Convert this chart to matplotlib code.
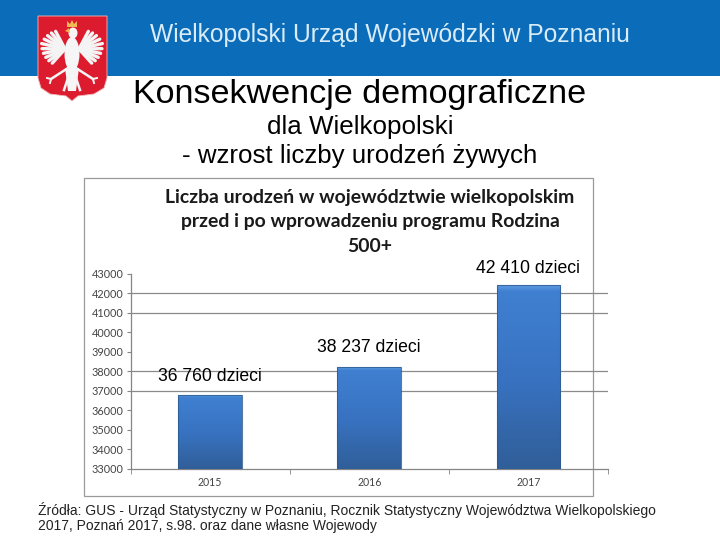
import matplotlib
matplotlib.use("Agg")
import matplotlib.pyplot as plt
from matplotlib.patches import Polygon, Rectangle, Ellipse
import numpy as np

years = ["2015", "2016", "2017"]
births = [36760, 38237, 42410]
bar_labels = ["36 760 dzieci", "38 237 dzieci", "42 410 dzieci"]
y_ticks = [33000, 34000, 35000, 36000, 37000, 38000, 39000, 40000, 41000, 42000, 43000]
grid_values = [37000, 38000, 41000, 42000]

W, H = 720, 540
sans = "Liberation Sans"

fig = plt.figure(figsize=(7.2, 5.4), dpi=100, facecolor="white")

# page layer in pixel coords, y pointing down
page = fig.add_axes([0, 0, 1, 1])
page.set_xlim(0, W)
page.set_ylim(H, 0)
page.axis("off")

page.add_patch(Rectangle((0, 0), W, 76, fc="#0b6dba", ec="none"))
page.add_patch(Rectangle((83.5, 177.5), 509, 318, fc="white", ec="#9a9a9a", lw=0.9))

page.text(150, 35, "Wielkopolski Urząd Wojewódzki w Poznaniu", color="#d9ecf8",
          fontsize=17.7, family=sans, va="center", ha="left")

# emblem
shield = [(38, 16), (107, 16), (107, 78), (104, 88), (94, 94), (78, 96), (72, 101),
          (66, 96), (50, 94), (41, 88), (38, 78)]
page.add_patch(Polygon(shield, fc="#dc1c2e", ec="#f0b8bc", lw=0.6))
for side in (-1, 1):
    for i, ang in enumerate(np.linspace(-48, 62, 10)):
        a = np.radians(ang)
        root = (72 + side * 7, 49)
        ln = 24 - abs(i - 5) * 1.0
        tip = (root[0] + side * ln * np.cos(a), root[1] - ln * np.sin(a))
        page.plot([root[0], tip[0]], [root[1], tip[1]], color="#f4f4f4", lw=2.4,
                  solid_capstyle="round")
    page.plot([72 + side * 4, 72 + side * 21], [68, 79], color="#f4f4f4", lw=1.8)
    page.plot([72 + side * 21, 72 + side * 25], [79, 78], color="#f4f4f4", lw=1.4)
    page.plot([72 + side * 21, 72 + side * 22], [79, 83], color="#f4f4f4", lw=1.4)
    page.plot([72 + side * 2, 72 + side * 8], [72, 90], color="#f4f4f4", lw=1.8)
page.add_patch(Ellipse((72, 54), 15, 34, fc="#f6f6f6", ec="none"))
page.add_patch(Polygon([(65, 68), (79, 68), (76, 91), (68, 91)], fc="#f6f6f6", ec="none"))
page.add_patch(Ellipse((73, 33), 9, 11, fc="#f6f6f6", ec="none"))
page.add_patch(Polygon([(69, 28), (65, 31), (70, 33)], fc="#eeb04a", ec="none"))
page.add_patch(Polygon([(67, 27), (67, 21), (70, 24), (72, 20), (74, 24), (77, 21), (77, 27)],
                       fc="#f0bb55", ec="none"))

page.text(359.5, 94, "Konsekwencje demograficzne", fontsize=24.6, family=sans,
          ha="center", va="center", color="black")
page.text(360, 127, "dla Wielkopolski", fontsize=18.7, family=sans,
          ha="center", va="center", color="black")
page.text(360, 156, "- wzrost liczby urodzeń żywych", fontsize=18.6, family=sans,
          ha="center", va="center", color="black")

for yy, line in zip((197, 222, 247), ("Liczba urodzeń w województwie wielkopolskim",
                                      "przed i po wprowadzeniu programu Rodzina", "500+")):
    page.text(370, yy, line, fontsize=13.95, family="Lato", weight="bold",
              ha="center", va="center", color="#1a1a1a")

page.text(38, 509.5, "Źródła: GUS - Urząd Statystyczny w Poznaniu, Rocznik Statystyczny Województwa Wielkopolskiego",
          fontsize=9.98, family=sans, va="center", color="#222222")
page.text(38, 526, "2017, Poznań 2017, s.98. oraz dane własne Wojewody",
          fontsize=9.98, family=sans, va="center", color="#222222")

# chart
left, right, top, bottom = 130.5, 608, 274, 468.7
ax = fig.add_axes([left / W, 1 - bottom / H, (right - left) / W, (bottom - top) / H])
ax.patch.set_alpha(0)
for s in ("top", "right"):
    ax.spines[s].set_visible(False)
for s in ("left", "bottom"):
    ax.spines[s].set_color("#858585")
    ax.spines[s].set_linewidth(0.9)
for g in grid_values:
    ax.axhline(g, color="#8a8a8a", lw=0.9, zorder=1)

ax.set_yticks(y_ticks)
ax.set_yticklabels([str(v) for v in y_ticks], fontsize=7.8, color="#444444", family="Lato")
ax.tick_params(axis="y", length=3, color="#858585", pad=2)
ax.set_xticks(range(len(years)))
ax.set_xticklabels(years, fontsize=7.6, color="#444444", family="Lato")
ax.set_xticks([-0.5, 0.5, 1.5, 2.5], minor=True)
ax.tick_params(axis="x", which="major", length=0, pad=6)
ax.tick_params(axis="x", which="minor", length=3.5, color="#858585")

bars = ax.bar(range(len(years)), births, width=0.4, color="#3c7cc8", zorder=2)
# vertical shading of each bar, light at the top
ramp = np.linspace(0, 1, 100)
grad = np.stack([np.interp(ramp, [0, 0.03, 0.5, 1], c) for c in
                 ([0.36, 0.25, 0.22, 0.19], [0.60, 0.50, 0.45, 0.37], [0.88, 0.82, 0.76, 0.60])],
                axis=1)[:, None, :]
for b in bars:
    x0, x1 = b.get_x(), b.get_x() + b.get_width()
    ax.imshow(grad, extent=(x0, x1, 33000, b.get_height()), aspect="auto",
              origin="upper", zorder=3)
    ax.add_patch(Rectangle((x0, 33000), b.get_width(), b.get_height() - 33000, fc="none",
                           ec="#2d5a8e", lw=0.8, alpha=0.8, zorder=4))
ax.set_xlim(-0.5, 2.5)
ax.set_ylim(33000, 43000)

label_pad = [960, 990, 890]
for i, lab in enumerate(bar_labels):
    ax.text(i, births[i] + label_pad[i], lab, fontsize=12.7,
            family=sans, ha="center", va="center", color="black", zorder=5, clip_on=False)

fig.savefig("out.png", dpi=100)
